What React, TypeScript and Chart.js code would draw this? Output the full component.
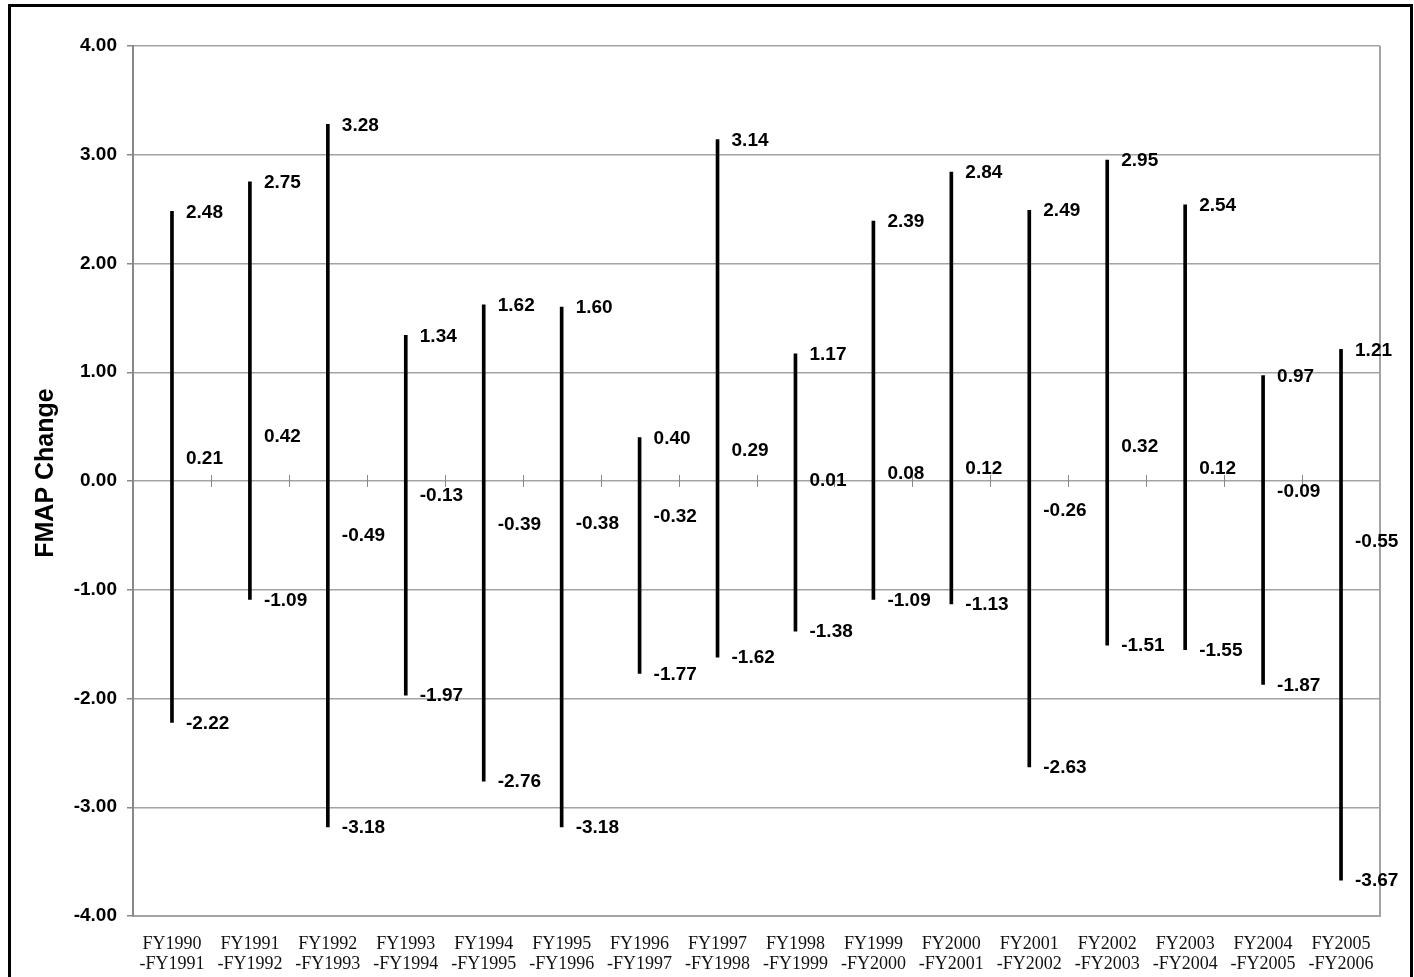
import React, { useEffect, useRef } from "react";
import { Chart, registerables } from "chart.js";

Chart.register(...registerables);

const categories: string[][] = [
  ["FY1990", "-FY1991"], ["FY1991", "-FY1992"], ["FY1992", "-FY1993"], ["FY1993", "-FY1994"],
  ["FY1994", "-FY1995"], ["FY1995", "-FY1996"], ["FY1996", "-FY1997"], ["FY1997", "-FY1998"],
  ["FY1998", "-FY1999"], ["FY1999", "-FY2000"], ["FY2000", "-FY2001"], ["FY2001", "-FY2002"],
  ["FY2002", "-FY2003"], ["FY2003", "-FY2004"], ["FY2004", "-FY2005"], ["FY2005", "-FY2006"],
];
const maxValues = [2.48, 2.75, 3.28, 1.34, 1.62, 1.60, 0.40, 3.14, 1.17, 2.39, 2.84, 2.49, 2.95, 2.54, 0.97, 1.21];
const meanValues = [0.21, 0.42, -0.49, -0.13, -0.39, -0.38, -0.32, 0.29, 0.01, 0.08, 0.12, -0.26, 0.32, 0.12, -0.09, -0.55];
const minValues = [-2.22, -1.09, -3.18, -1.97, -2.76, -3.18, -1.77, -1.62, -1.38, -1.09, -1.13, -2.63, -1.51, -1.55, -1.87, -3.67];
const yTicks = [-4, -3, -2, -1, 0, 1, 2, 3, 4];
const yTitle = "FMAP Change";

const GRID = "#a3a3a3";

const overlay = {
  id: "overlay",
  afterDatasetsDraw(chart: any) {
    const ctx = chart.ctx;
    const x = chart.scales.x;
    const y = chart.scales.y;
    const area = chart.chartArea;
    ctx.save();
    // right border
    ctx.strokeStyle = GRID;
    ctx.lineWidth = 2;
    ctx.beginPath();
    ctx.moveTo(area.right, area.top);
    ctx.lineTo(area.right, area.bottom);
    ctx.stroke();
    // ticks on zero line at category boundaries
    const y0 = y.getPixelForValue(0);
    ctx.lineWidth = 1;
    ctx.strokeStyle = "#888";
    const w = (area.right - area.left) / categories.length;
    for (let i = 1; i < categories.length; i++) {
      const bx = Math.round(area.left + i * w) + 0.5;
      ctx.beginPath();
      ctx.moveTo(bx, y0 - 6);
      ctx.lineTo(bx, y0 + 6);
      ctx.stroke();
    }
    // value labels
    ctx.fillStyle = "#000";
    ctx.font = "bold 19px 'Liberation Sans', Arial, sans-serif";
    ctx.textAlign = "left";
    ctx.textBaseline = "middle";
    categories.forEach((_, i) => {
      const cx = x.getPixelForValue(i) + 14;
      [maxValues[i], meanValues[i], minValues[i]].forEach((v) => {
        ctx.fillText(v.toFixed(2), cx, y.getPixelForValue(v) + 1);
      });
    });
    // y title
    ctx.save();
    ctx.translate(46, 473);
    ctx.rotate(-Math.PI / 2);
    ctx.textAlign = "center";
    ctx.font = "bold 25px 'Liberation Sans', Arial, sans-serif";
    ctx.fillText(yTitle, 0, 0);
    ctx.restore();
    // outer frame
    ctx.strokeStyle = "#000";
    ctx.lineWidth = 3;
    ctx.strokeRect(9.5, 5.5, 1402, 990);
    ctx.restore();
  },
};

export default function App() {
  const ref = useRef<HTMLCanvasElement | null>(null);
  useEffect(() => {
    if (!ref.current) return;
    const chart = new Chart(ref.current, {
      type: "bar",
      data: {
        labels: categories,
        datasets: [
          {
            type: "bar",
            label: "Range",
            data: maxValues.map((m, i) => [minValues[i], m]) as any,
            backgroundColor: "#000",
            barThickness: 3,
            borderSkipped: false,
          } as any,
          {
            type: "line",
            label: "Mean",
            data: meanValues,
            showLine: false,
            pointRadius: 0,
          } as any,
        ],
      },
      options: {
        responsive: false,
        animation: false,
        devicePixelRatio: 1,
        layout: { padding: { left: 8, top: 46, right: 34, bottom: 0 } },
        plugins: { legend: { display: false }, tooltip: { enabled: false } },
        scales: {
          x: {
            grid: { display: false, drawTicks: false },
            border: { color: GRID, width: 2 },
            ticks: {
              color: "#111",
              font: { family: "'Liberation Serif', 'Times New Roman', serif", size: 18, lineHeight: 1.12 },
              padding: 18,
              maxRotation: 0,
              autoSkip: false,
            },
            afterFit: (s: any) => { s.height = 61; },
          },
          y: {
            min: -4,
            max: 4,
            afterBuildTicks: (s: any) => { s.ticks = yTicks.map((v) => ({ value: v })); },
            grid: { color: GRID, lineWidth: 1.5, tickLength: 6, tickColor: "#888" },
            border: { color: "#888", width: 2 },
            ticks: {
              color: "#000",
              font: { family: "'Liberation Sans', Arial, sans-serif", size: 19, weight: "bold" },
              padding: 10,
              callback: (v: any) => Number(v).toFixed(2),
            },
            afterFit: (s: any) => { s.width = 125; },
          },
        },
      },
      plugins: [overlay],
    });
    return () => chart.destroy();
  }, []);
  return (
    <div style={{ position: "absolute", left: 0, top: 0, width: 1414, height: 977, background: "#fff" }}>
      <canvas ref={ref} width={1414} height={977} style={{ display: "block" }} />
    </div>
  );
}
